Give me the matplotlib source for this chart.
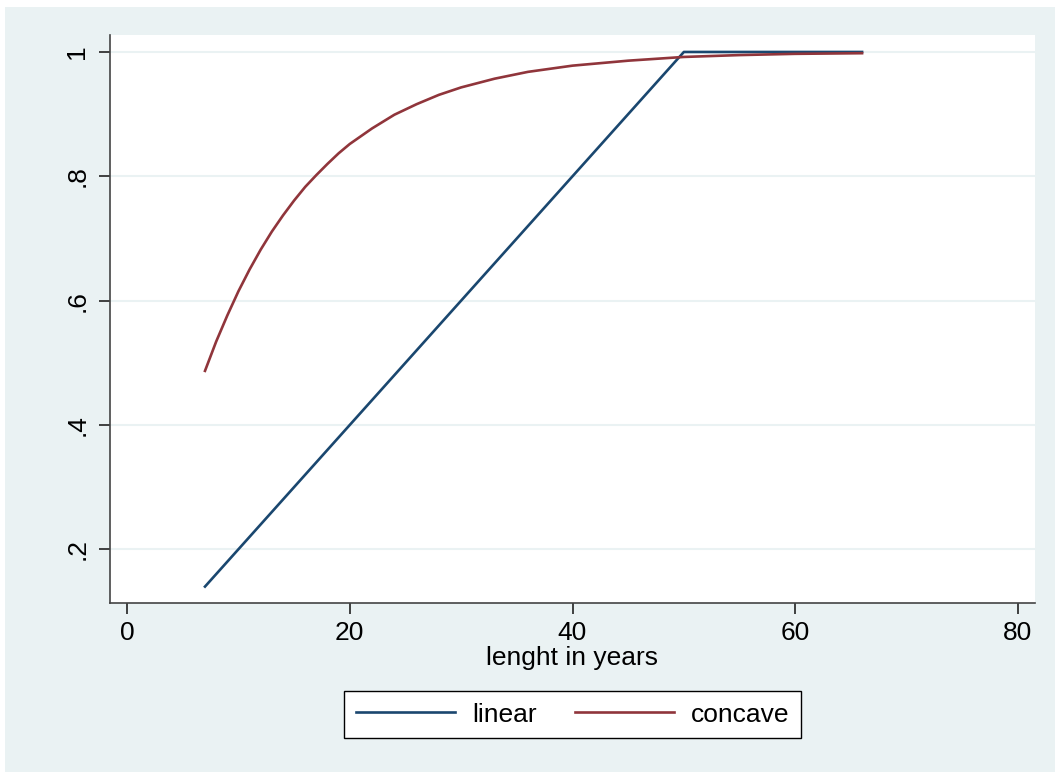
import matplotlib
matplotlib.use("Agg")
import matplotlib.pyplot as plt
from matplotlib.patches import Rectangle

# Data
linear_years = [7, 10, 20, 30, 40, 50, 55, 60, 66]
linear_vals = [0.14, 0.20, 0.40, 0.60, 0.80, 1.00, 1.00, 1.00, 1.00]

concave_years = [7, 8, 9, 10, 11, 12, 13, 14, 15, 16, 17, 18, 19, 20,
                 22, 24, 26, 28, 30, 33, 36, 40, 45, 50, 55, 60, 66]
concave_vals = [0.487, 0.534, 0.576, 0.615, 0.650, 0.682, 0.711, 0.737,
                0.761, 0.783, 0.802, 0.820, 0.837, 0.852, 0.877, 0.899,
                0.916, 0.931, 0.943, 0.957, 0.968, 0.978, 0.986, 0.992,
                0.995, 0.997, 0.998]

x_ticks = [0, 20, 40, 60, 80]
x_ticklabels = ["0", "20", "40", "60", "80"]
y_ticks = [0.2, 0.4, 0.6, 0.8, 1.0]
y_ticklabels = [".2", ".4", ".6", ".8", "1"]

W, H = 1055, 772
BG = "#EAF2F3"
NAVY = "#1a476f"
MAROON = "#90353b"
FS = 19

plt.rcParams['font.family'] = ['Liberation Sans', 'DejaVu Sans']

fig = plt.figure(figsize=(W / 100, H / 100), dpi=100, facecolor="white")
fig.patches.append(Rectangle((5 / W, 0), 1 - 5 / W, 1 - 7 / H,
                             transform=fig.transFigure, facecolor=BG,
                             edgecolor="none", zorder=-10))

# plot area px: x 110..1035, y 35..603
l, r, t, b = 110, 1035, 35, 603
ax = fig.add_axes([l / W, 1 - b / H, (r - l) / W, (b - t) / H])
ax.set_facecolor("white")

ax.plot(linear_years, linear_vals, color=NAVY, lw=1.9, label="linear",
        solid_joinstyle="round")
ax.plot(concave_years, concave_vals, color=MAROON, lw=1.9, label="concave",
        solid_joinstyle="round")

ax.set_xlim(-1.53, 81.53)
ax.set_ylim(0.1136, 1.0273)
ax.set_xticks(x_ticks)
ax.set_xticklabels(x_ticklabels)
ax.set_yticks(y_ticks)
ax.set_yticklabels(y_ticklabels, rotation=90, va="center")
ax.grid(axis="y", color=BG, lw=1.5)
ax.set_axisbelow(True)

for s in ["top", "right"]:
    ax.spines[s].set_visible(False)
for s in ["left", "bottom"]:
    ax.spines[s].set_color("#444444")
    ax.spines[s].set_linewidth(1.2)

ax.tick_params(axis="both", direction="out", length=8, width=1.2,
               color="#222222", labelsize=FS, labelcolor="black")
ax.tick_params(axis="x", pad=5)
ax.tick_params(axis="y", pad=7)

ax.set_xlabel("lenght in years", fontsize=FS, labelpad=1)

leg = fig.legend(loc="center", bbox_to_anchor=(572.5 / W, 1 - 714.5 / H),
                 ncol=2, fontsize=FS, frameon=True, fancybox=False,
                 edgecolor="black", facecolor="white", handlelength=3.75,
                 handletextpad=0.65, columnspacing=1.45, borderpad=0.45,
                 borderaxespad=0)
leg.get_frame().set_linewidth(1.0)
leg.get_frame().set_alpha(1)

fig.savefig("out.png", dpi=100, facecolor="white")
